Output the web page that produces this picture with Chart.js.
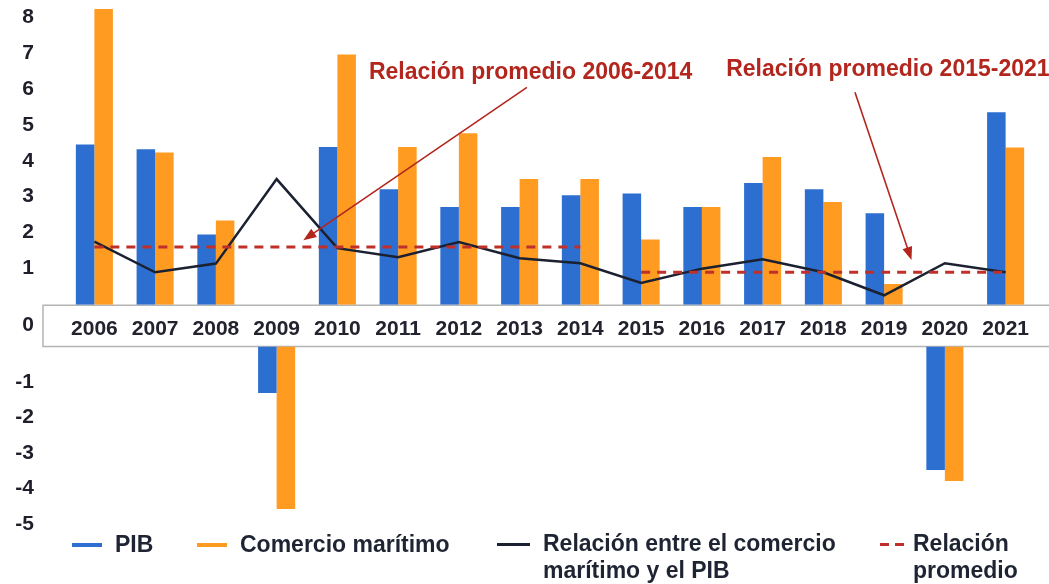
<!DOCTYPE html>
<html>
<head>
<meta charset="utf-8">
<script src="https://cdn.jsdelivr.net/npm/chart.js@4.4.1/dist/chart.umd.min.js"></script>
<style>
	body { margin: 0; background: #fff; }
	#wrap { position: relative; width: 1049px; height: 584px; }
	.leg { position: absolute; font: bold 23px "Liberation Sans", Arial, sans-serif; color: #1f2433; line-height: 27px; }
	.sw { position: absolute; height: 0; }
</style>
</head>
<body>
<div id="wrap">
	<canvas id="tradeChart"></canvas>
	<div class="sw" style="left:72px; top:543px; width:30px; border-top:4px solid #2c6fd1;"></div>
	<div class="leg" style="left:115px; top:531px;">PIB</div>
	<div class="sw" style="left:197px; top:543px; width:30px; border-top:4px solid #ff9b21;"></div>
	<div class="leg" style="left:240px; top:531px;">Comercio marítimo</div>
	<div class="sw" style="left:497px; top:543px; width:33px; border-top:3px solid #1b2130;"></div>
	<div class="leg" style="left:543px; top:530px;">Relación entre el comercio<br>marítimo y el PIB</div>
	<div class="sw" style="left:880px; top:543px; width:9px; border-top:3px solid #c0302a;"></div>
	<div class="sw" style="left:895px; top:543px; width:9px; border-top:3px solid #c0302a;"></div>
	<div class="leg" style="left:913px; top:530px;">Relación<br>promedio</div>
</div>
<script>
const years = ["2006", "2007", "2008", "2009", "2010", "2011", "2012", "2013", "2014", "2015", "2016", "2017", "2018", "2019", "2020", "2021"];
const pib = [4.45, 4.32, 1.95, -1.31, 4.38, 3.21, 2.71, 2.71, 3.04, 3.09, 2.71, 3.38, 3.21, 2.54, -3.48, 5.35];
const comercio = [8.22, 4.23, 2.34, -4.58, 6.95, 4.38, 4.76, 3.49, 3.49, 1.81, 2.71, 4.1, 2.85, 0.57, -3.79, 4.37];
const relacion = [1.75, 0.9, 1.14, 3.49, 1.57, 1.32, 1.74, 1.29, 1.15, 0.6, 1.0, 1.26, 0.9, 0.26, 1.15, 0.9];
const promedio2006_2014 = 1.6;
const promedio2015_2021 = 0.9;
const posTicks = [1, 2, 3, 4, 5, 6, 7, 8];
const negTicks = [-1, -2, -3, -4, -5];

// notes: text anchor and arrow in data units (x = category index, y = value)
const notes = [
	{ text: "Relación promedio 2006-2014", x: 4.52, y: 6.45, from: [7.12, 6.04], to: [3.44, 1.79] },
	{ text: "Relación promedio 2015-2021", x: 10.4, y: 6.53, from: [12.52, 5.9], to: [13.45, 1.24] },
];

const BLUE = "#2c6fd1", ORANGE = "#ff9b21", DARK = "#1b2130", RED = "#c0302a", NOTE = "#b3261e";
const FONT = "'Liberation Sans', Arial, sans-serif";

const upper = (arr) => arr.map((v) => (v >= 0 ? v : null));
const lower = (arr) => arr.map((v) => (v < 0 ? v : null));
const avg1 = years.map((y) => (+y <= 2014 ? promedio2006_2014 : null));
const avg2 = years.map((y) => (+y >= 2015 ? promedio2015_2021 : null));

// white band holding the year labels between positive and negative parts
const bandPlugin = {
	id: "band",
	beforeDraw(chart) {
		const { ctx, chartArea } = chart;
		const mid = chart.scales.yMid;
		const x0 = chartArea.left - 21;
		ctx.save();
		ctx.fillStyle = "#fff";
		ctx.fillRect(x0, mid.top, chart.width - x0, mid.bottom - mid.top);
		ctx.strokeStyle = "#b4b4b4";
		ctx.lineWidth = 1.5;
		ctx.beginPath();
		ctx.moveTo(chart.width, mid.top + 0.5);
		ctx.lineTo(x0, mid.top + 0.5);
		ctx.lineTo(x0, mid.bottom);
		ctx.lineTo(chart.width, mid.bottom);
		ctx.stroke();
		ctx.restore();
	},
};

const notesPlugin = {
	id: "notes",
	afterDatasetsDraw(chart) {
		const { ctx } = chart;
		const xs = chart.scales.x, ys = chart.scales.yPos;
		ctx.save();
		notes.forEach((n) => {
			ctx.font = "bold 23px " + FONT;
			ctx.fillStyle = NOTE;
			ctx.textBaseline = "middle";
			ctx.textAlign = "left";
			ctx.fillText(n.text, xs.getPixelForValue(n.x), ys.getPixelForValue(n.y));
			const x1 = xs.getPixelForValue(n.from[0]), y1 = ys.getPixelForValue(n.from[1]);
			const x2 = xs.getPixelForValue(n.to[0]), y2 = ys.getPixelForValue(n.to[1]);
			const a = Math.atan2(y2 - y1, x2 - x1);
			ctx.strokeStyle = NOTE;
			ctx.lineWidth = 1.6;
			ctx.beginPath();
			ctx.moveTo(x1, y1);
			ctx.lineTo(x2 - 9 * Math.cos(a), y2 - 9 * Math.sin(a));
			ctx.stroke();
			ctx.beginPath();
			ctx.moveTo(x2, y2);
			ctx.lineTo(x2 - 13 * Math.cos(a) + 5 * Math.sin(a), y2 - 13 * Math.sin(a) - 5 * Math.cos(a));
			ctx.lineTo(x2 - 13 * Math.cos(a) - 5 * Math.sin(a), y2 - 13 * Math.sin(a) + 5 * Math.cos(a));
			ctx.closePath();
			ctx.fillStyle = NOTE;
			ctx.fill();
		});
		ctx.restore();
	},
};

const tickFont = { family: FONT, size: 21, weight: "bold" };
// fixed axis width, and no extra top/bottom padding from the tick labels
const fitLeft = (scale) => {
	scale.width = 61;
	scale.paddingTop = 0;
	scale.paddingBottom = 0;
};
const hidden = { grid: { display: false, drawTicks: false }, border: { display: false } };
const yTicks = { font: tickFont, color: "#1f1f2b", padding: 30, autoSkip: false };

new Chart(document.getElementById("tradeChart"), {
	type: "bar",
	data: {
		labels: years,
		datasets: [
			{ label: "PIB", data: upper(pib), backgroundColor: BLUE, yAxisID: "yPos", stack: "pib", order: 2 },
			{ label: "Comercio marítimo", data: upper(comercio), backgroundColor: ORANGE, yAxisID: "yPos", stack: "com", order: 2 },
			{ label: "PIB", data: lower(pib), backgroundColor: BLUE, yAxisID: "yNeg", stack: "pib", order: 2 },
			{ label: "Comercio marítimo", data: lower(comercio), backgroundColor: ORANGE, yAxisID: "yNeg", stack: "com", order: 2 },
			{
				type: "line", label: "Relación entre el comercio marítimo y el PIB", data: relacion,
				borderColor: DARK, borderWidth: 2.5, pointRadius: 0, tension: 0, yAxisID: "yPos", order: 1,
			},
			{
				type: "line", label: "Relación promedio", data: avg1, borderColor: RED, borderWidth: 3,
				borderDash: [9, 7], pointRadius: 0, yAxisID: "yPos", order: 0,
			},
			{
				type: "line", label: "Relación promedio", data: avg2, borderColor: RED, borderWidth: 3,
				borderDash: [9, 7], pointRadius: 0, yAxisID: "yPos", order: 0,
			},
		],
	},
	options: {
		responsive: true,
		maintainAspectRatio: false,
		animation: false,
		categoryPercentage: 0.61,
		barPercentage: 1,
		layout: { padding: { top: 6, right: 13, bottom: 60, left: 3 } },
		plugins: { legend: { display: false }, tooltip: { enabled: false } },
		scales: {
			x: {
				type: "category",
				position: { yPos: 0 },
				...hidden,
				ticks: { font: tickFont, color: "#23232f", padding: 12, autoSkip: false, maxRotation: 0 },
			},
			yPos: {
				type: "linear", position: "left", stack: "v", stackWeight: 298.8, weight: 3,
				min: 0, max: 8.3, ...hidden,
				afterBuildTicks: (s) => { s.ticks = posTicks.map((v) => ({ value: v })); },
				afterFit: fitLeft,
				ticks: yTicks,
			},
			yMid: {
				type: "linear", position: "left", stack: "v", stackWeight: 42, weight: 2,
				min: -1, max: 1, ...hidden,
				afterBuildTicks: (s) => { s.ticks = [{ value: 0 }]; },
				afterFit: fitLeft,
				ticks: yTicks,
			},
			yNeg: {
				type: "linear", position: "left", stack: "v", stackWeight: 177.5, weight: 1,
				min: -5, max: 0, ...hidden,
				afterBuildTicks: (s) => { s.ticks = negTicks.map((v) => ({ value: v })); },
				afterFit: fitLeft,
				ticks: yTicks,
			},
		},
	},
	plugins: [bandPlugin, notesPlugin],
});
</script>
</body>
</html>
